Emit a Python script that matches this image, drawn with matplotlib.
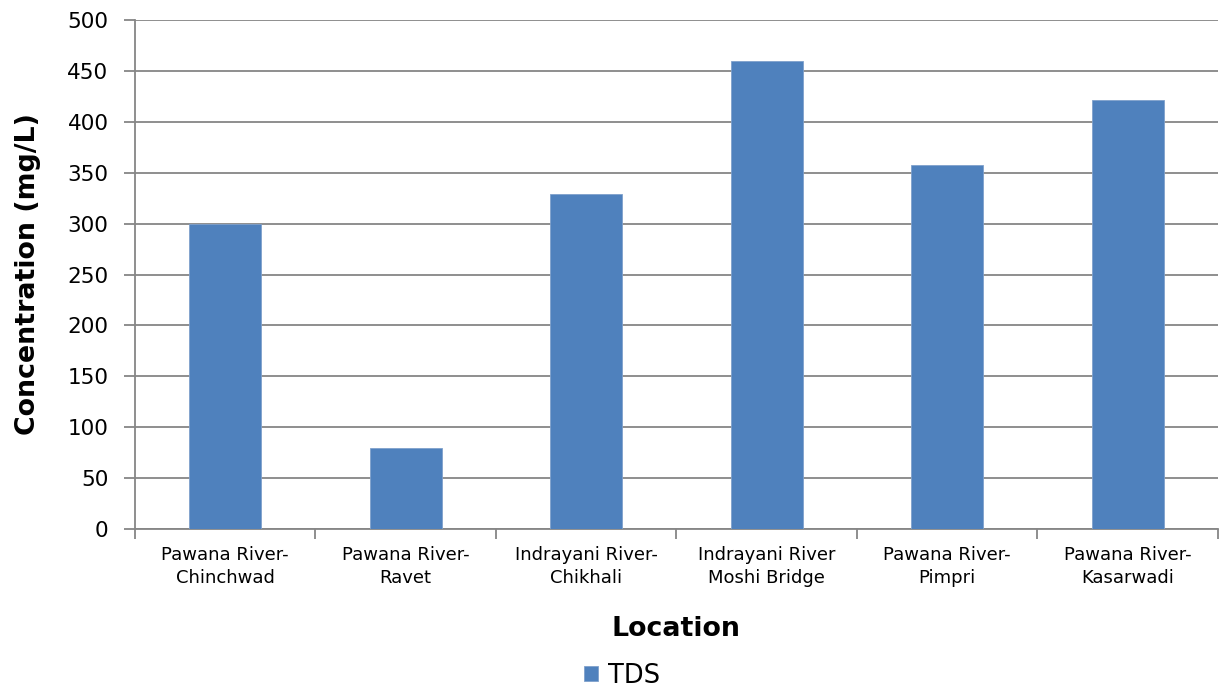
import matplotlib.pyplot as plt
import numpy as np

# TDS concentration per sampling location
locations = ['Pawana River-\nChinchwad', 'Pawana River-\nRavet', 'Indrayani River-\nChikhali',
             'Indrayani River\nMoshi Bridge', 'Pawana River-\nPimpri', 'Pawana River-\nKasarwadi']
tds = [300, 80, 329, 460, 358, 421]
y_ticks = [0, 50, 100, 150, 200, 250, 300, 350, 400, 450, 500]

plt.rcParams['font.family'] = ['Verdana', 'DejaVu Sans']
grey = '#868686'

fig = plt.figure(figsize=(12.29, 6.91), dpi=100)
ax = fig.add_axes([0.1098, 0.2344, 0.8812, 0.7366])

x = np.arange(len(locations))
bars = ax.bar(x, tds, width=0.4, color='#4F81BD', edgecolor='#7FA1CC', linewidth=0.6,
              label='TDS', zorder=3)

ax.set_xlim(-0.5, len(locations) - 0.5)
ax.set_ylim(0, 500)
ax.set_yticks(y_ticks)
ax.yaxis.grid(True, color=grey, linewidth=1.3, zorder=0)

# labels centred under bars, tick marks on the category boundaries
ax.set_xticks(x)
ax.set_xticklabels(locations, fontsize=13, linespacing=1.4)
ax.set_xticks(np.arange(-0.5, len(locations)), minor=True)
ax.tick_params(axis='x', which='major', length=0, pad=12)
ax.tick_params(axis='x', which='minor', length=7, width=1.3, color=grey)
ax.tick_params(axis='y', length=8, width=1.3, color=grey, labelsize=15.5, pad=11)

for side in ['top', 'right']:
    ax.spines[side].set_visible(False)
for side in ['left', 'bottom']:
    ax.spines[side].set_color(grey)
    ax.spines[side].set_linewidth(1.3)

ax.set_ylabel('Concentration (mg/L)', fontsize=19.3, fontweight='bold', labelpad=19)
ax.set_xlabel('Location', fontsize=19.3, fontweight='bold', labelpad=21)

fig.legend(handles=[bars], labels=['TDS'], loc='center', bbox_to_anchor=(0.506, 0.022),
           frameon=False, fontsize=18.5, handlelength=0.55, handleheight=0.55,
           handletextpad=0.4, borderpad=0)

fig.savefig('out.png', dpi=100)
